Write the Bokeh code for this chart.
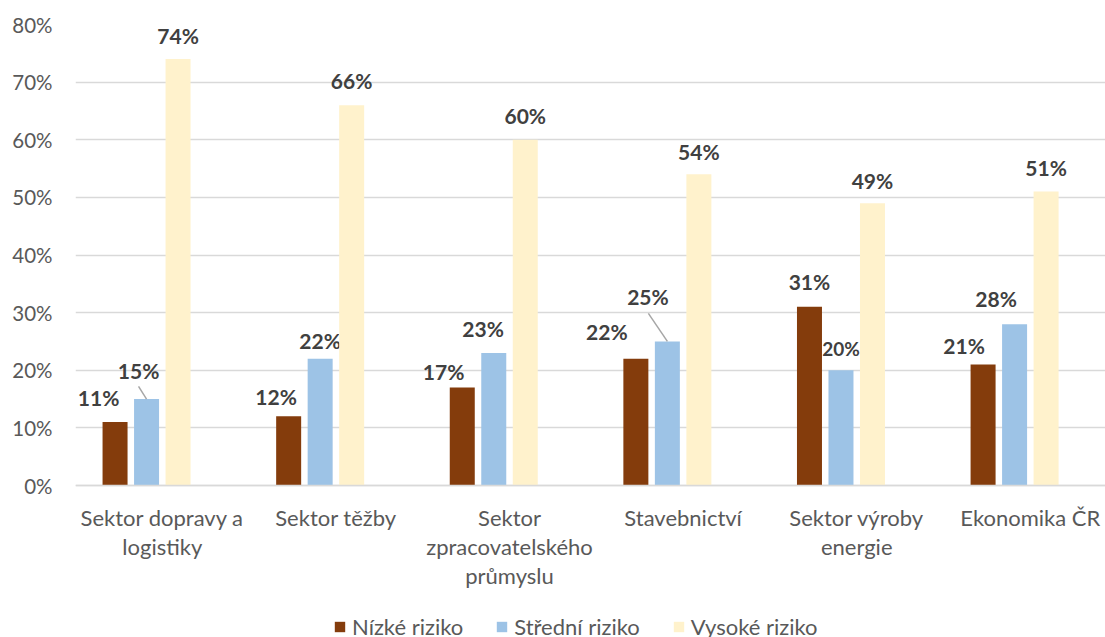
from bokeh.plotting import figure
from bokeh.models import (FixedTicker, NumeralTickFormatter, Legend, LegendItem,
                          ColumnDataSource)
from bokeh.core.properties import value
from bokeh.embed import file_html
from bokeh.resources import INLINE

# ---------------- data ----------------
categories = ["Sektor dopravy a\nlogistiky", "Sektor těžby",
              "Sektor\nzpracovatelského\nprůmyslu", "Stavebnictví",
              "Sektor výroby\nenergie", "Ekonomika ČR"]
series_names = ["Nízké riziko", "Střední riziko", "Vysoké riziko"]
nizke = [0.11, 0.12, 0.17, 0.22, 0.31, 0.21]
stredni = [0.15, 0.22, 0.23, 0.25, 0.20, 0.28]
vysoke = [0.74, 0.66, 0.60, 0.54, 0.49, 0.51]
y_ticks = [0.0, 0.1, 0.2, 0.3, 0.4, 0.5, 0.6, 0.7, 0.8]

# ---------------- style / layout ----------------
colors = ["#843C0C", "#9DC3E6", "#FFF2CC"]
FONT = "Lato"
FRAME_W = 1030
PX_Y = 461 / 0.8            # px per unit on the value axis
FRAME_H = 613               # plot area + room for category labels and legend
X_END = 5.933
Y_END = 0.8
Y_START = Y_END - FRAME_H / PX_Y
PX_X = FRAME_W / X_END
slot = 31.5 / PX_X
bar_w = 25 / PX_X
slot_pos = [-1.5, -0.5, 0.5]

# label offsets in screen px relative to (bar centre, bar top): (dx, dy)
label_offsets = [
    [(-16.5, -24.6), (-12.5, -19.4), (-18.7, -16.0), (-29.0, -27.0), (0.0, -25.0), (-19.0, -19.0)],
    [(-8.0, -28.6), (0.0, -18.0), (-10.7, -24.5), (-19.4, -45.4), (0.0, -22.0), (-18.5, -26.0)],
    [(0.0, -24.0), (0.0, -24.7), (0.0, -24.0), (0.0, -23.3), (0.0, -23.0), (0.0, -24.0)],
]
label_sizes = [["21px"] * 6, ["21px", "21px", "21px", "21px", "19px", "21px"], ["21px"] * 6]
# leader lines: (series, category, dx_start, dy_start) px relative to bar top
leaders = [(1, 0, -8.0, -12.6), (1, 3, -19.0, -28.0)]

p = figure(frame_width=FRAME_W, frame_height=FRAME_H,
           x_range=(0, X_END), y_range=(Y_START, Y_END),
           output_backend="svg", toolbar_location=None,
           min_border_left=75, min_border_right=0, min_border_top=24,
           min_border_bottom=0)
p.outline_line_color = None
p.background_fill_color = "white"
p.border_fill_color = "white"

p.xgrid.grid_line_color = None
p.ygrid.grid_line_color = "#D9D9D9"
p.ygrid.grid_line_width = 1.5
p.ygrid.ticker = FixedTicker(ticks=y_ticks)

# y axis
p.yaxis.ticker = FixedTicker(ticks=y_ticks)
p.yaxis.formatter = NumeralTickFormatter(format="0%")
p.yaxis.axis_line_color = None
p.yaxis.major_tick_line_color = None
p.yaxis.minor_tick_line_color = None
p.yaxis.major_label_standoff = 17
p.yaxis.major_label_text_font = FONT
p.yaxis.major_label_text_font_size = "20.5px"
p.yaxis.major_label_text_color = "#595959"

# x axis (drawn at the value 0)
xt = [i + 0.5 for i in range(len(categories))]
p.xaxis.fixed_location = 0
p.xaxis.ticker = FixedTicker(ticks=xt)
p.xaxis.major_label_overrides = {t: c for t, c in zip(xt, categories)}
p.xaxis.axis_line_color = "#D9D9D9"
p.xaxis.axis_line_width = 1.5
p.xaxis.major_tick_line_color = None
p.xaxis.minor_tick_line_color = None
p.xaxis.major_label_standoff = 12
p.xaxis.major_label_text_font = FONT
p.xaxis.major_label_text_font_size = "22px"
p.xaxis.major_label_text_color = "#595959"
p.xaxis.major_label_text_line_height = 1.08

series = [nizke, stredni, vysoke]
items = []
for s, vals in enumerate(series):
    xs = [i + 0.5 + slot_pos[s] * slot for i in range(len(vals))]
    src = ColumnDataSource(dict(x=xs, top=vals))
    r = p.vbar(x="x", top="top", width=bar_w, bottom=0, source=src,
               fill_color=colors[s], line_color=None)
    items.append(LegendItem(label=series_names[s], renderers=[r]))
    lsrc = ColumnDataSource(dict(
        x=xs, y=vals,
        text=[f"{round(v * 100)}%" for v in vals],
        xo=[o[0] for o in label_offsets[s]],
        yo=[o[1] for o in label_offsets[s]],
        fs=label_sizes[s]))
    p.text(x="x", y="y", text="text", x_offset="xo", y_offset="yo",
           text_font=value(FONT), text_font_style="bold",
           text_font_size="fs", text_color="#404040",
           text_align="center", text_baseline="middle", source=lsrc)

# leader lines
x0s, y0s, x1s, y1s = [], [], [], []
for s, i, dx, dy in leaders:
    bx = i + 0.5 + slot_pos[s] * slot
    by = series[s][i]
    x0s.append(bx + dx / PX_X)
    y0s.append(by - dy / PX_Y)
    x1s.append(bx)
    y1s.append(by)
p.segment(x0=x0s, y0=y0s, x1=x1s, y1=y1s, line_color="#A6A6A6", line_width=1.5)

legend = Legend(items=items, orientation="horizontal", location=(258, -3),
                label_text_font=FONT, label_text_font_size="22px",
                label_text_color="#595959", glyph_width=13, glyph_height=13,
                label_standoff=6, spacing=32, padding=2, margin=0,
                border_line_color=None, background_fill_alpha=0)
p.add_layout(legend, "center")

open("out.html", "w").write(file_html(p, INLINE))
